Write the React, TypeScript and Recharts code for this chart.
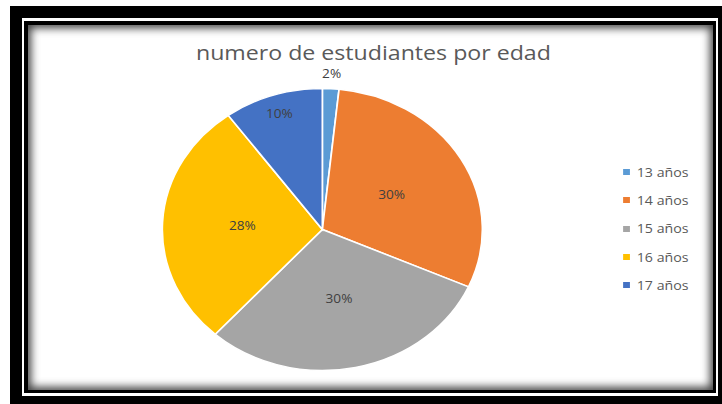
import { PieChart, Pie, Cell, Legend } from 'recharts';

// categories and values (students per age, shown as percentages)
const ages = ['13 años', '14 años', '15 años', '16 años', '17 años'];
const students = [1, 18, 18, 17, 6];
const colors = ['#5B9BD5', '#ED7D31', '#A5A5A5', '#FFC000', '#4472C4'];
const title = 'numero de estudiantes por edad';

// the reference is stretched horizontally, so the chart is drawn narrower and scaled
const SX = 1.135;
const W = 636;
const H = 404;
const FONT = '"Open Sans", "Noto Sans", sans-serif';
// how far out each percentage label sits, as a fraction of the radius
const labelDist = [1.11, 0.5, 0.5, 0.5, 0.87];

const data = ages.map((name, i) => ({ name, value: students[i] }));

const RAD = Math.PI / 180;

function renderLabel(props: any) {
    const { cx, cy, midAngle, outerRadius, percent, index } = props;
    const r = outerRadius * labelDist[index];
    const x = cx + r * Math.cos(-midAngle * RAD);
    const y = cy + r * Math.sin(-midAngle * RAD);
    return (
        <text x={x} y={y} textAnchor="middle" dominantBaseline="central"
            fill="#404040" fontSize={12} fontFamily={FONT}>
            {`${Math.round(percent * 100)}%`}
        </text>
    );
}

function renderLegend(props: any) {
    const payload = props.payload || [];
    return (
        <div style={{ fontFamily: FONT, fontSize: 12.5, color: '#595959' }}>
            {payload.map((p: any) => (
                <div key={p.value} style={{ display: 'flex', alignItems: 'center', height: 28.3 }}>
                    <span style={{ width: 6, height: 6, background: p.color, display: 'inline-block', marginRight: 6 }} />
                    <span>{p.value}</span>
                </div>
            ))}
        </div>
    );
}

export default function App() {
    return (
        <div style={{ position: 'fixed', left: 0, top: 0, width: 722, height: 404, overflow: 'hidden', background: '#fff' }}>
            {/* frame */}
            <div style={{ position: 'absolute', left: 10, top: 6, width: 712, height: 398, background: '#000' }} />
            <div style={{ position: 'absolute', left: 22, top: 18, width: 696, height: 378, background: '#fff' }} />
            <div style={{ position: 'absolute', left: 24, top: 21, width: 692, height: 372, background: '#000' }} />
            <div style={{
                position: 'absolute', left: 28, top: 25, width: 685, height: 365, background: '#fff',
                boxShadow: 'inset 0 0 8px 3px rgba(0,0,0,0.75)'
            }} />

            <div style={{ position: 'absolute', left: 0, top: 0, width: W, height: H, transform: `scaleX(${SX})`, transformOrigin: '0 0' }}>
                <svg width={W} height={80} style={{ position: 'absolute', left: 0, top: 0 }}>
                    <text x={329} y={60} textAnchor="middle" fill="#595959" fontSize={20.4} fontFamily={FONT}>
                        {title}
                    </text>
                </svg>
                <PieChart width={W} height={H} margin={{ top: 0, right: 0, bottom: 0, left: 0 }}
                    style={{ position: 'absolute', left: 0, top: 0 }}>
                    <Pie
                        data={data}
                        dataKey="value"
                        nameKey="name"
                        cx={284}
                        cy={229.5}
                        outerRadius={141}
                        startAngle={90}
                        endAngle={-270}
                        stroke="#fff"
                        strokeWidth={1.5}
                        label={renderLabel}
                        labelLine={false}
                        isAnimationActive={false}
                    >
                        {data.map((d, i) => (
                            <Cell key={d.name} fill={colors[i]} />
                        ))}
                    </Pie>
                    <Legend
                        layout="vertical"
                        align="right"
                        verticalAlign="top"
                        content={renderLegend}
                        wrapperStyle={{ left: 549, top: 158, width: 80 }}
                    />
                </PieChart>
            </div>
        </div>
    );
}
